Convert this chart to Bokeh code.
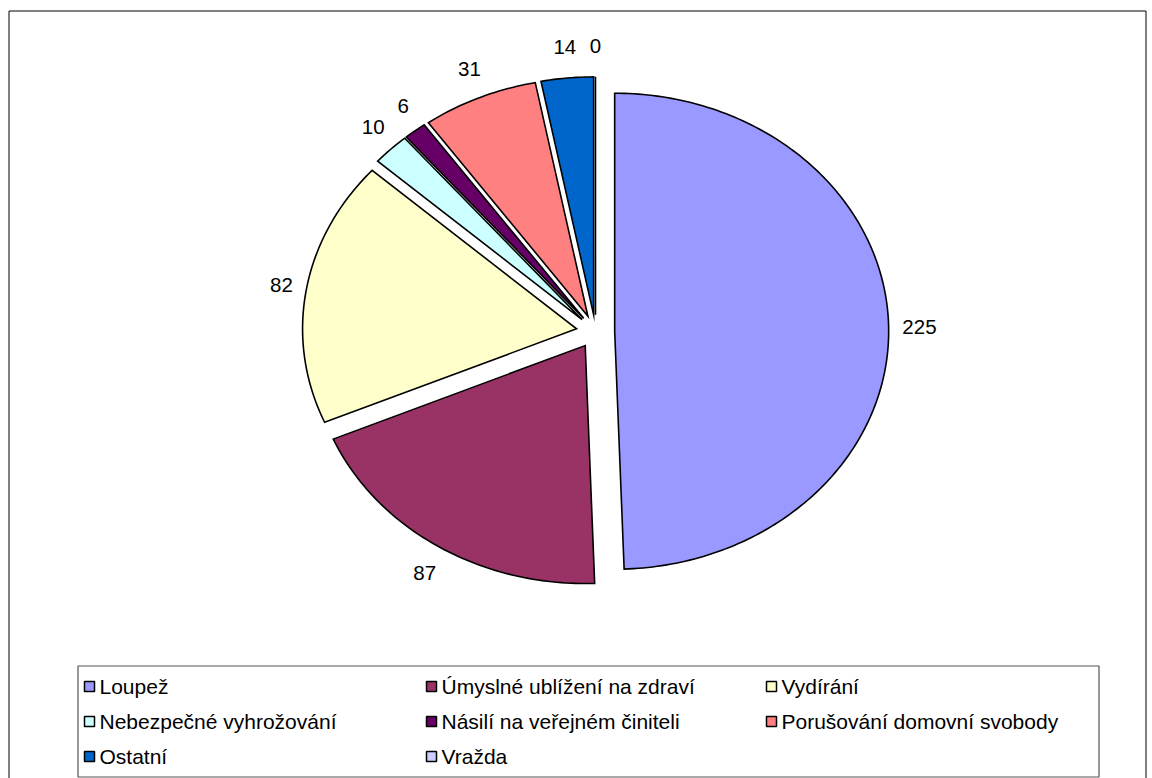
import numpy as np
from bokeh.plotting import figure
from bokeh.models import Range1d, ColumnDataSource
from bokeh.core.properties import value
from bokeh.embed import file_html
from bokeh.resources import INLINE

# ---- data ----
categories = ["Loupež", "Úmyslné ublížení na zdraví", "Vydírání",
              "Nebezpečné vyhrožování", "Násilí na veřejném činiteli",
              "Porušování domovní svobody", "Ostatní", "Vražda"]
counts = [225, 87, 82, 10, 6, 31, 14, 0]
colors = ["#9999FF", "#993366", "#FFFFCC", "#CCFFFF", "#660066",
          "#FF8080", "#0066CC", "#CCCCFF"]

# ---- layout constants (pixel coordinates) ----
W, H = 1152, 778
CX, CY = 595, 331        # pie centre
RX, RY = 274, 238        # pie radii (elliptical)
EXPLODE = 0.07           # explosion as fraction of radius
LABEL_FX, LABEL_FY = 1.05, 1.10
FONT = "Liberation Sans"
LBL_SIZE = 20.5
LEG_SIZE = 21

p = figure(width=W, height=H, output_backend="svg", toolbar_location=None,
           x_range=Range1d(0, W), y_range=Range1d(H, 0),
           min_border=0)
p.axis.visible = False
p.grid.visible = False
p.outline_line_color = None
p.background_fill_color = "white"
p.border_fill_color = "white"

# outer chart border
p.quad(left=[8.5], right=[1145.5], top=[10.5], bottom=[800],
       fill_color=None, line_color="black", line_width=1)

vals = np.array(counts, dtype=float)
frac = vals / vals.sum()
ends = np.cumsum(frac) * 2 * np.pi
starts = ends - frac * 2 * np.pi

xs, ys = [], []
lx, ly, ltxt = [], [], []
for s, e, v in zip(starts, ends, counts):
    mid = (s + e) / 2
    ox = EXPLODE * RX * np.sin(mid)
    oy = -EXPLODE * RY * np.cos(mid)
    cx, cy = CX + ox, CY + oy
    n = max(2, int(np.degrees(e - s)) + 2)
    t = np.linspace(s, e, n)
    px = [cx] + list(cx + RX * np.sin(t))
    py = [cy] + list(cy - RY * np.cos(t))
    xs.append(px)
    ys.append(py)
    txt = str(v)
    hw = 0.556 * LBL_SIZE * len(txt) / 2
    hh = 7.5
    lx.append(cx + np.sin(mid) * (RX * LABEL_FX + hw))
    ly.append(cy - np.cos(mid) * (RY * LABEL_FY + hh))
    ltxt.append(txt)

src = ColumnDataSource(dict(xs=xs, ys=ys, color=colors, name=categories))
p.patches("xs", "ys", source=src, fill_color="color", line_color="black",
          line_width=1.6, line_join="miter")

p.text(x=lx, y=ly, text=ltxt, text_font=value(FONT),
       text_font_size=f"{LBL_SIZE}px",
       text_align="center", text_baseline="middle", text_color="#000000")

# ---- legend (drawn as glyphs) ----
LEG_L, LEG_R, LEG_T, LEG_B = 77.5, 1098.5, 665.5, 776.5
p.quad(left=[LEG_L], right=[LEG_R], top=[LEG_T], bottom=[LEG_B],
       fill_color="white", line_color="#555555", line_width=1.2)
col_sq = [89, 431, 771]
row_y = [686, 721, 756]
sq_x, sq_y, tx, ty = [], [], [], []
for i, name in enumerate(categories):
    r, c = divmod(i, 3)
    sq_x.append(col_sq[c])
    sq_y.append(row_y[r])
    tx.append(col_sq[c] + 10)
    ty.append(row_y[r])
p.rect(x=sq_x, y=sq_y, width=10, height=10, fill_color=colors,
       line_color="black", line_width=1.5)
p.text(x=tx, y=ty, text=categories, text_font=value(FONT),
       text_font_size=f"{LEG_SIZE}px", text_align="left",
       text_baseline="middle", text_color="#000000")

open("out.html", "w").write(file_html(p, INLINE))
